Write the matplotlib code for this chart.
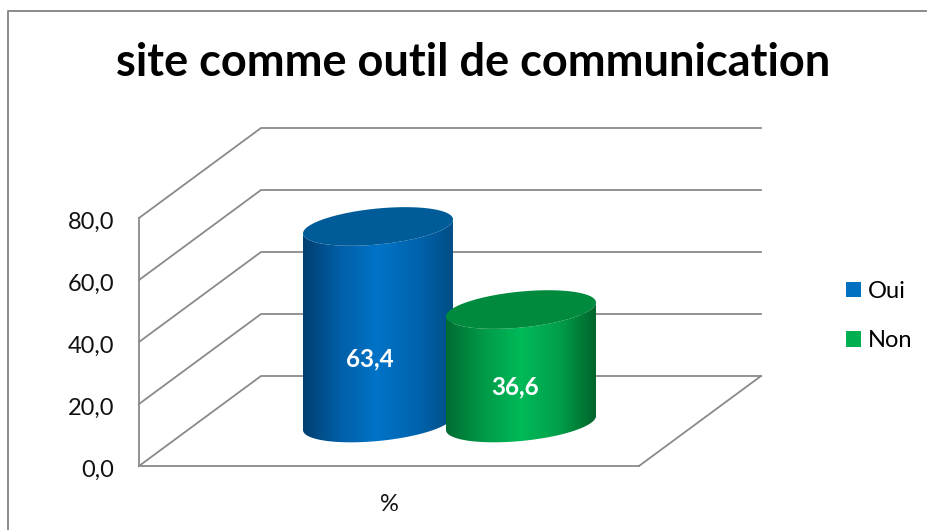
import numpy as np
import matplotlib
matplotlib.use("Agg")
import matplotlib.pyplot as plt
from matplotlib.colors import LinearSegmentedColormap
from matplotlib.lines import Line2D
from matplotlib.patches import Patch, Polygon
from matplotlib.transforms import ScaledTranslation

plt.rcParams['font.family'] = ['Lato', 'DejaVu Sans']

title = "site comme outil de communication"
categories = ["Oui", "Non"]
values = [63.4, 36.6]
value_labels = ["63,4", "36,6"]
y_ticks = [0, 20, 40, 60, 80]
y_tick_labels = ["0,0", "20,0", "40,0", "60,0", "80,0"]
x_label = "%"

grey = "#8a8a8a"
base_colors = ["#0070C0", "#00B050"]
top_colors = ["#005c98", "#008a3e"]
side_colors = [
    ["#003f70", "#005fa8", "#0074c8", "#0064b0", "#004e86"],
    ["#006c32", "#009a48", "#00ba58", "#00a04a", "#00642c"],
]

W, H = 928, 530
# front plane of the 3d box, in pixels
px_left, px_right, px_bottom, px_top = 139, 639, 466, 218
px_per_cat = 143.0
px_per_val = (px_bottom - px_top) / 80.0

fig = plt.figure(figsize=(W / 100, H / 100), dpi=100)
ax = fig.add_axes([px_left / W, 1 - px_bottom / H, (px_right - px_left) / W, (px_bottom - px_top) / H])
xlim = ((px_left - 378) / px_per_cat, (px_right - 378) / px_per_cat)

# depth of the box, in data units
dx = 122 / px_per_cat
dy = 90 / px_per_val

# chart frame, cut by the picture on right and bottom
fig.add_artist(Line2D([8.5 / W, 8.5 / W, 1], [0, 1 - 10.5 / H, 1 - 10.5 / H], color=grey, lw=1.4))

# walls
for t in y_ticks:
    ax.plot([xlim[0], xlim[0] + dx, xlim[1] + dx], [t, t + dy, t + dy], color=grey, lw=1.3, clip_on=False, zorder=1)
ax.plot([xlim[1], xlim[1] + dx], [0, dy], color=grey, lw=1.3, clip_on=False, zorder=1)

# cylinders
rx = 75 / px_per_cat
ry = 18 / px_per_val
shear = 7 / px_per_val
floor = 43 / px_per_val
theta = np.linspace(0, np.pi, 80)
for i, v in enumerate(values):
    cmap = LinearSegmentedColormap.from_list("side", side_colors[i])
    # bottom edge runs right to left through the front, top edge comes back
    bx = i + rx * np.cos(theta)
    by = floor - ry * np.sin(theta) + shear * np.cos(theta)
    tx = i - rx * np.cos(theta)
    ty = floor + v - ry * np.sin(theta) - shear * np.cos(theta)
    side = np.column_stack([np.r_[bx, tx], np.r_[by, ty]])
    patch = Polygon(side, closed=True, transform=ax.transData, facecolor="none", edgecolor="none")
    ax.add_patch(patch)
    patch.set_clip_on(False)
    im = ax.imshow(np.linspace(0, 1, 256).reshape(1, -1), cmap=cmap, aspect="auto",
                   extent=(i - rx, i + rx, floor - 30, floor + v + 30), zorder=3 + i)
    im.set_clip_box(fig.bbox)
    im.set_clip_path(patch)
    t2 = np.linspace(0, 2 * np.pi, 160)
    ax.add_patch(Polygon(np.column_stack([i + rx * np.cos(t2),
                                          floor + v + ry * np.sin(t2) + shear * np.cos(t2)]),
                         closed=True, facecolor=top_colors[i], edgecolor="none", clip_on=False, zorder=3 + i))

label_pos = [(-8 / px_per_cat, 34.5), (1 - 6 / px_per_cat, 25.5)]
for (lx, ly), s in zip(label_pos, value_labels):
    ax.text(lx, ly, s, color="white", fontsize=17.5, fontweight="bold", ha="center", va="center", zorder=6)

ax.set_xlim(xlim)
ax.set_ylim(0, 80)
ax.patch.set_alpha(0)
for s in ["top", "right"]:
    ax.spines[s].set_visible(False)
for s in ["left", "bottom"]:
    ax.spines[s].set_color(grey)
    ax.spines[s].set_linewidth(1.3)
ax.set_yticks(y_ticks)
ax.set_yticklabels(y_tick_labels, fontsize=17, color="#111111")
ax.set_xticks([sum(xlim) / 2])
ax.set_xticklabels([x_label], fontsize=17, color="#111111")
ax.tick_params(axis="y", length=0, pad=18)
ax.tick_params(axis="x", length=0, pad=20)
# tick text sits a little low in the original
shift = ScaledTranslation(0, -2 / 100, fig.dpi_scale_trans)
for lab in ax.get_yticklabels():
    lab.set_transform(lab.get_transform() + shift)

fig.text(473.5 / W, 1 - 63.5 / H, title, fontsize=32.5, fontweight="bold", ha="center", va="center", color="black")

handles = [Patch(facecolor=c, edgecolor="none") for c in base_colors]
fig.legend(handles, categories, loc="center left", bbox_to_anchor=(846 / W, 1 - 316 / H), frameon=False,
           fontsize=17, handlelength=0.635, handleheight=0.635, handletextpad=0.3, labelspacing=1.2,
           borderpad=0, borderaxespad=0)

fig.savefig("out.png", dpi=100)
